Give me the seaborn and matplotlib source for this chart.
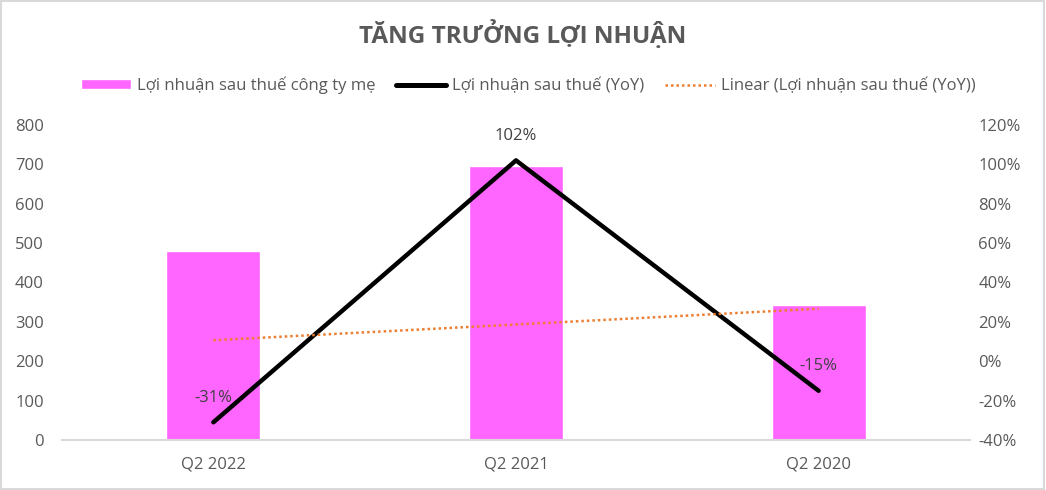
import matplotlib
matplotlib.use("Agg")
import matplotlib.pyplot as plt
from matplotlib.patches import Rectangle
from matplotlib.lines import Line2D
from matplotlib.patches import Patch
import matplotlib.ticker as mticker
import numpy as np
import pandas as pd
import seaborn as sns

quarters = ["Q2 2022", "Q2 2021", "Q2 2020"]
profit = [481, 697, 344]
yoy = [-0.31, 1.02, -0.15]
yoy_labels = ["-31%", "102%", "-15%"]

sns.set_style("white")
plt.rcParams["font.family"] = ["Open Sans", "DejaVu Sans"]

grey = "#595959"
df = pd.DataFrame({"quarter": quarters, "profit": profit, "yoy": yoy, "pos": range(len(quarters))})

fig = plt.figure(figsize=(10.46, 4.9), dpi=100)
ax = fig.add_axes([0.0593, 0.102, 0.868, 0.643])

sns.barplot(data=df, x="quarter", y="profit", color="#FF66FF", width=0.31,
            saturation=1, ax=ax)
ax.set_ylim(0, 800)
ax.set_xlim(-0.5, 2.5)
ax.yaxis.set_major_locator(mticker.MultipleLocator(100))
ax.set_xlabel("")
ax.set_ylabel("")

ax2 = ax.twinx()
sns.lineplot(data=df, x="pos", y="yoy", color="black", linewidth=3.2, ax=ax2,
             solid_capstyle="round")
# linear trend of YoY series (like Excel trendline)
k, b = np.polyfit(df["pos"], df["yoy"], 1)
ax2.plot(df["pos"], k * df["pos"] + b, color="#ED7D31", linestyle=(0, (1, 1.2)), linewidth=1.8)
ax2.set_ylim(-0.4, 1.2)
ax2.yaxis.set_major_locator(mticker.MultipleLocator(0.2))
ax2.yaxis.set_major_formatter(mticker.FuncFormatter(lambda v, p: f"{v*100:.0f}%"))
ax2.set_xlim(-0.5, 2.5)
ax2.set_ylabel("")

for x, v, t in zip(df["pos"], yoy, yoy_labels):
    ax2.annotate(t, (x, v), xytext=(0, 12), textcoords="offset points",
                 ha="center", va="bottom", fontsize=12, color="#404040")

for a in (ax, ax2):
    for s in a.spines.values():
        s.set_visible(False)
    a.tick_params(axis="both", length=0, labelsize=12, labelcolor=grey)
ax.spines["bottom"].set_visible(True)
ax.spines["bottom"].set_color("#D9D9D9")
ax.spines["bottom"].set_linewidth(1.5)
ax.tick_params(axis="x", pad=12)
ax.tick_params(axis="y", pad=13)
ax2.tick_params(axis="y", pad=6)

fig.suptitle("TĂNG TRƯỞNG LỢI NHUẬN", y=0.96, fontsize=17.5, fontweight="bold", color=grey)

handles = [
    Patch(facecolor="#FF66FF", label="Lợi nhuận sau thuế công ty mẹ"),
    Line2D([0], [0], color="black", linewidth=3.6, solid_capstyle="round",
           label="Lợi nhuận sau thuế (YoY)"),
    Line2D([0], [0], color="#ED7D31", linestyle=(0, (1, 1.2)), linewidth=1.8,
           label="Linear (Lợi nhuận sau thuế (YoY))"),
]
fig.legend(handles=handles, loc="center", bbox_to_anchor=(0.505, 0.826), ncol=3,
           frameon=False, fontsize=12, labelcolor=grey, handlelength=3.0,
           handleheight=0.55, handletextpad=0.4, columnspacing=1.2)

fig.patches.append(Rectangle((0.001, 0.002), 0.997, 0.995, transform=fig.transFigure,
                             fill=False, edgecolor="#D9D9D9", linewidth=1.5))

fig.savefig("out.png", dpi=100)
